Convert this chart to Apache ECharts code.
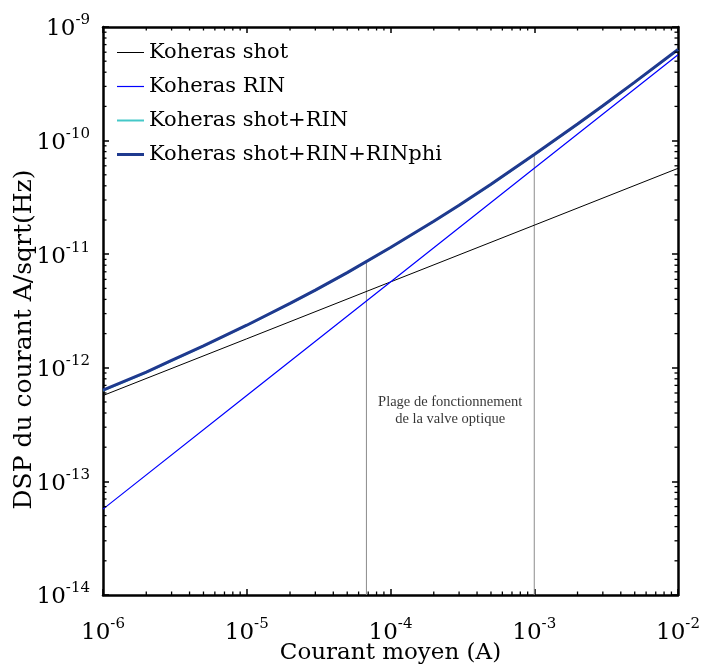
<!DOCTYPE html>
<html>
<head>
<meta charset="utf-8">
<script src="https://cdn.jsdelivr.net/npm/echarts@6/dist/echarts.min.js"></script>
<style>html,body{margin:0;padding:0;background:#fff}#c{width:703px;height:666px}</style>
</head>
<body>
<div id="c"></div>
<script>
// Data
const shotX = [1e-6, 1e-5, 1e-4, 1e-3, 1e-2];
const shotY = [5.7e-13, 1.8e-12, 5.7e-12, 1.8e-11, 5.7e-11];
const rinX = [1e-6, 1e-5, 1e-4, 1e-3, 1e-2];
const rinY = [5.7e-14, 5.7e-13, 5.7e-12, 5.7e-11, 5.7e-10];
const totalX = [1e-6, 2e-6, 3e-6, 5e-6, 1e-5, 2e-5, 3e-5, 5e-5, 1e-4, 2e-4, 3e-4, 5e-4, 1e-3, 2e-3, 3e-3, 5e-3, 1e-2];
const shotRinY = [6.3e-13, 9.1e-13, 1.15e-12, 1.55e-12, 2.36e-12, 3.67e-12, 4.81e-12, 6.85e-12, 1.14e-11, 1.94e-11, 2.69e-11, 4.1e-11, 7.5e-11, 1.39e-10, 2.02e-10, 3.25e-10, 6.3e-10];
const totalY = [6.35e-13, 9.15e-13, 1.16e-12, 1.56e-12, 2.37e-12, 3.69e-12, 4.83e-12, 6.88e-12, 1.145e-11, 1.95e-11, 2.70e-11, 4.12e-11, 7.53e-11, 1.40e-10, 2.03e-10, 3.27e-10, 6.33e-10];
const vlineX = [6.8e-5, 1e-3];
const vlineTop = [8.5e-12, 7.5e-11];
const annotX = 2.6e-4, annotY = 4.2e-13;
const annotText = 'Plage de fonctionnement\nde la valve optique';
const seriesNames = ['Koheras shot', 'Koheras RIN', 'Koheras shot+RIN', 'Koheras shot+RIN+RINphi'];
const seriesColors = ['#000000', '#0000ff', '#45c8c8', '#1f3a8f'];
const seriesWidths = [1, 1.2, 2, 3];
const xMin = 1e-6, xMax = 1e-2, yMin = 1e-14, yMax = 1e-9;
const xMinor = [], yMinor = [];
for (let e = -6; e < -2; e++) for (let m = 2; m <= 9; m++) xMinor.push(m * Math.pow(10, e));
for (let e = -14; e < -9; e++) for (let m = 2; m <= 9; m++) yMinor.push(m * Math.pow(10, e));

const FONT = 'DejaVu Serif';
const zip = (xs, ys) => xs.map((x, i) => [x, ys[i]]);
function expLabel(v) {
  const e = Math.round(Math.log10(v));
  return '{b|10}{s|' + e + '}';
}
const rich = {
  b: { fontFamily: FONT, fontSize: 23, color: '#000', verticalAlign: 'bottom', lineHeight: 24 },
  s: { fontFamily: FONT, fontSize: 15, color: '#000', verticalAlign: 'bottom', padding: [0, 0, 13, 0] }
};

const chart = echarts.init(document.getElementById('c'), null, { renderer: 'canvas' });
const tickData = [];
xMinor.forEach(v => tickData.push([v, 1e-12, 0]));
yMinor.forEach(v => tickData.push([1e-4, v, 1]));

const vlineSeries = vlineX.map((x, i) => ({
  type: 'line', data: [[x, yMin], [x, vlineTop[i]]], symbol: 'none', silent: true,
  lineStyle: { color: '#8c8c8c', width: 1 }, z: 1, legendHoverLink: false
}));

const axisCommon = {
  axisLine: { show: true, onZero: false, lineStyle: { color: '#000', width: 2.5 } },
  axisTick: { show: true, inside: true, length: 6, lineStyle: { color: '#000', width: 1.5 } },
  splitLine: { show: false }
};

chart.setOption({
  animation: false,
  grid: { left: 103, right: 25, top: 27, bottom: 71, containLabel: false, outerBoundsMode: 'none' },
  legend: {
    orient: 'vertical', left: 112, top: 37, itemWidth: 27, itemHeight: 14, itemGap: 13,
    data: seriesNames.map((n, i) => ({ name: n, icon: 'path://M0,0L27,0L27,' + seriesWidths[i] + 'L0,' + seriesWidths[i] + 'Z' })),
    symbolKeepAspect: true,
    textStyle: { fontFamily: FONT, fontSize: 21, color: '#000' }
  },
  xAxis: [Object.assign({
    type: 'log', min: xMin, max: xMax, logBase: 10, position: 'bottom',
    name: 'Courant moyen (A)', nameLocation: 'middle', nameGap: 47, nameMoveOverlap: false,
    nameTextStyle: { fontFamily: FONT, fontSize: 23, color: '#000' },
    axisLabel: { formatter: expLabel, rich: rich, margin: 22 }
  }, axisCommon), Object.assign({
    type: 'log', min: xMin, max: xMax, logBase: 10, position: 'top',
    axisLabel: { show: false }
  }, axisCommon)],
  yAxis: [Object.assign({
    type: 'log', min: yMin, max: yMax, logBase: 10, position: 'left',
    name: 'DSP du courant A/sqrt(Hz)', nameLocation: 'middle', nameGap: 66, nameRotate: 90, nameMoveOverlap: false,
    nameTextStyle: { fontFamily: FONT, fontSize: 25, color: '#000', padding: [0, 57, 0, 0] },
    axisLabel: { formatter: expLabel, rich: rich, margin: 13 }
  }, axisCommon), Object.assign({
    type: 'log', min: yMin, max: yMax, logBase: 10, position: 'right',
    axisLabel: { show: false }
  }, axisCommon)],
  series: [
    ...vlineSeries,
    {
      type: 'custom', name: 'minorTicks', silent: true, clip: false, z: 5,
      xAxisIndex: 0, yAxisIndex: 0,
      encode: { x: 0, y: 1 },
      dimensions: ['x', 'y', 'kind'],
      data: tickData,
      renderItem: function (params, api) {
        const kind = api.value(2);
        const L = 3.5;
        const st = { stroke: '#000', lineWidth: 1.3 };
        if (kind === 0) {
          const v = api.value(0);
          const b = api.coord([v, yMin]), t = api.coord([v, yMax]);
          return { type: 'group', children: [
            { type: 'line', shape: { x1: b[0], y1: b[1], x2: b[0], y2: b[1] - L }, style: st },
            { type: 'line', shape: { x1: t[0], y1: t[1], x2: t[0], y2: t[1] + L }, style: st }
          ]};
        } else {
          const v = api.value(1);
          const l = api.coord([xMin, v]), r = api.coord([xMax, v]);
          return { type: 'group', children: [
            { type: 'line', shape: { x1: l[0], y1: l[1], x2: l[0] + L, y2: l[1] }, style: st },
            { type: 'line', shape: { x1: r[0], y1: r[1], x2: r[0] - L, y2: r[1] }, style: st }
          ]};
        }
      }
    },
    {
      type: 'scatter', silent: true, symbolSize: 0, data: [[annotX, annotY]], z: 6,
      label: { show: true, position: 'inside', formatter: annotText, fontFamily: 'Liberation Serif', fontSize: 14.5, color: '#000', lineHeight: 17, align: 'center' }
    },
    { name: seriesNames[0], type: 'line', data: zip(shotX, shotY), symbol: 'none', lineStyle: { color: seriesColors[0], width: seriesWidths[0] }, itemStyle: { color: seriesColors[0] }, z: 3 },
    { name: seriesNames[1], type: 'line', data: zip(rinX, rinY), symbol: 'none', lineStyle: { color: seriesColors[1], width: seriesWidths[1] }, itemStyle: { color: seriesColors[1] }, z: 3 },
    { name: seriesNames[2], type: 'line', data: zip(totalX, shotRinY), symbol: 'none', lineStyle: { color: seriesColors[2], width: seriesWidths[2] }, itemStyle: { color: seriesColors[2] }, z: 3 },
    { name: seriesNames[3], type: 'line', data: zip(totalX, totalY), symbol: 'none', lineStyle: { color: seriesColors[3], width: seriesWidths[3] }, itemStyle: { color: seriesColors[3] }, z: 4 }
  ]
});
</script>
</body>
</html>
